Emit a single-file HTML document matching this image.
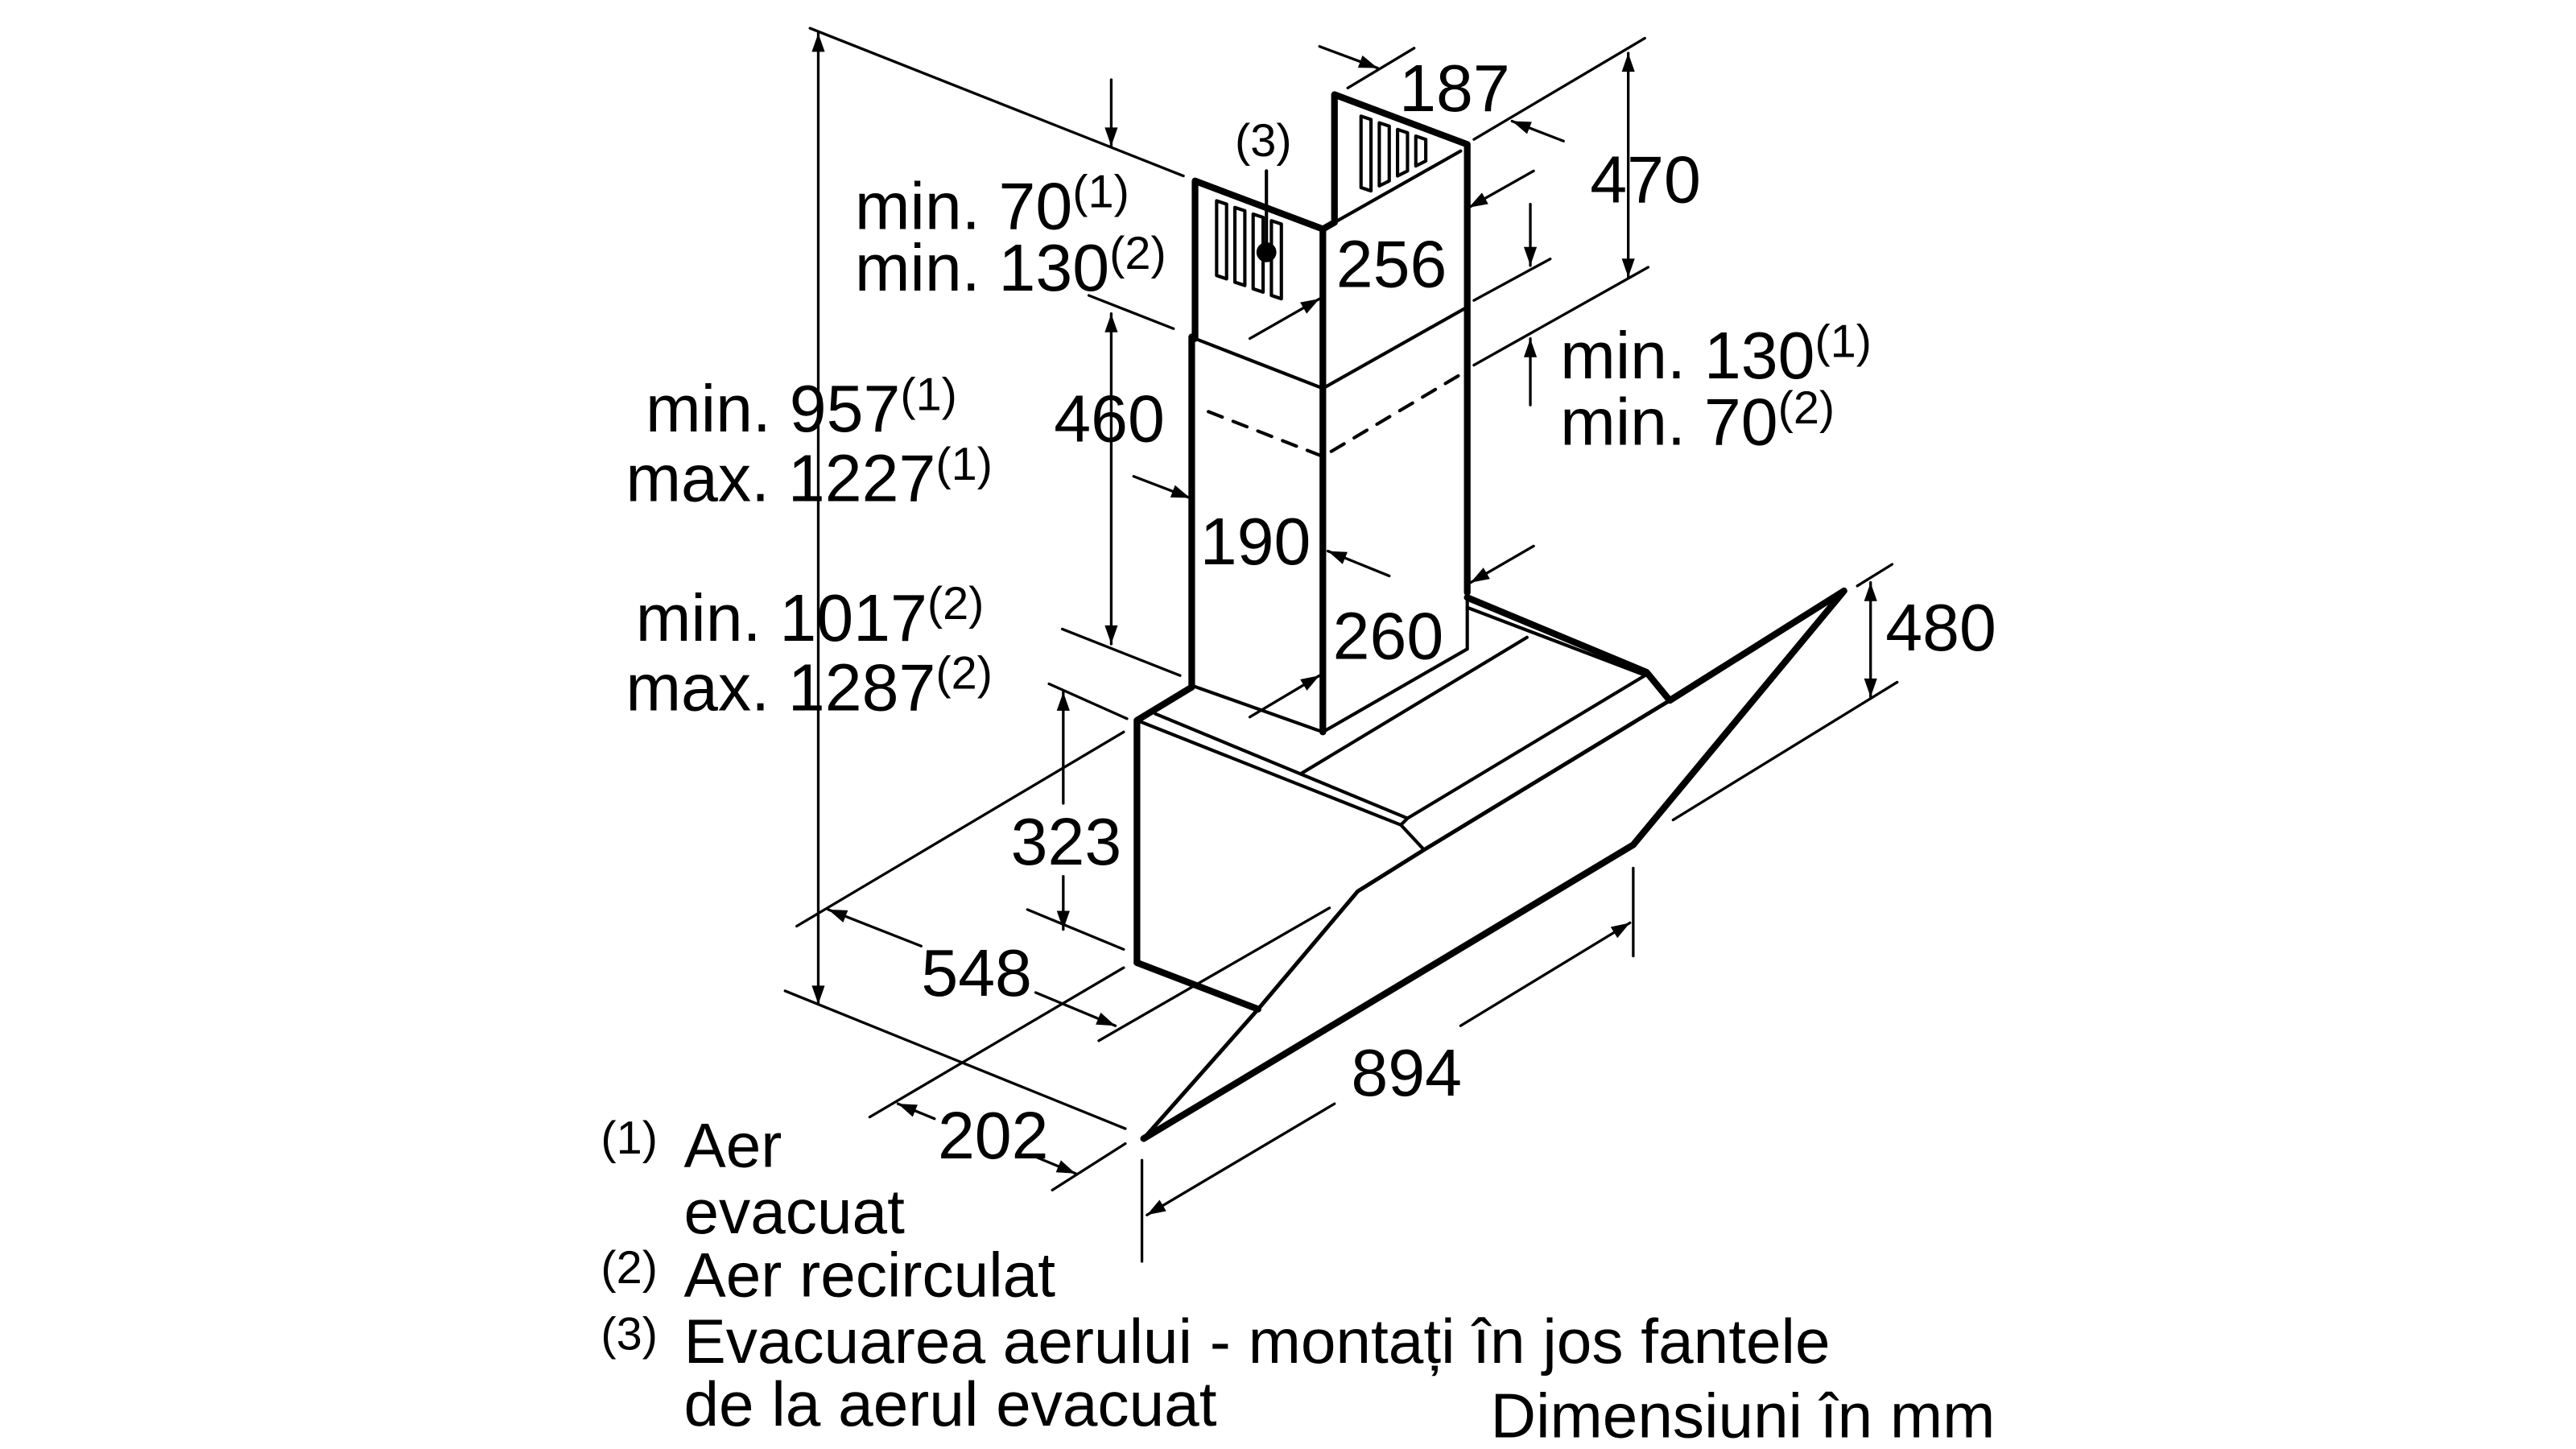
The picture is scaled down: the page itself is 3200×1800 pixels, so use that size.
<!DOCTYPE html>
<html><head><meta charset="utf-8"><style>
html,body{margin:0;padding:0;background:#fff;}
svg{display:block}
text{font-family:"Liberation Sans",sans-serif;fill:#000}
</style></head><body>
<svg width="3200" height="1800" viewBox="0 0 1552 873" xmlns="http://www.w3.org/2000/svg">
<defs><marker id="a" viewBox="0 0 10 10" refX="10" refY="5" markerWidth="7.5" markerHeight="7" orient="auto-start-reverse"><path d="M0,1.5 L10,5 L0,8.5 z" fill="#000"/></marker></defs>
<rect width="1552" height="873" fill="#fff"/>
<g stroke="#000" fill="none" stroke-linecap="round" stroke-linejoin="round">
<g stroke-width="4">
<polyline points="720,204 720,109 797,138 804,134 804,57 884,87 884,357"/>
<line x1="718" y1="203" x2="718" y2="414"/>
<line x1="797" y1="138" x2="797" y2="441"/>
<polyline points="685,580 685,434 718,414"/>
<polyline points="685,580 758,608"/>
<polyline points="689,686 984,509 1111,356 1006,422 992,405 884,360"/>
</g>
<g stroke-width="2.4">
<polyline points="1006,422 858,512 818,537 758,608 689,686"/>
</g>
<g stroke-width="2">
<polyline points="720,204 797,234 884,185"/>
<polyline points="728,248 797,275 881,225" stroke-dasharray="9,7"/>
<polyline points="718,413 797,441 884,391"/>
<line x1="884" y1="185" x2="884" y2="391"/>
<line x1="804" y1="134" x2="880" y2="91"/>
<polyline points="685,434 844,497 858,512"/>
<line x1="696" y1="430" x2="848" y2="493"/>
<line x1="884" y1="366" x2="989" y2="406"/>
<line x1="784" y1="466" x2="920" y2="384"/>
<line x1="848" y1="493" x2="991" y2="407"/>
<line x1="844" y1="497" x2="848" y2="493"/>
<polygon points="733,121 739,123 739,168 733,166"/>
<polygon points="744,125 750,127 750,172 744,170"/>
<polygon points="755,129 761,131 761,176 755,174"/>
<polygon points="766,133 772,135 772,180 766,178"/>
<polygon points="820,70 826,72 826,115 820,113"/>
<polygon points="831,74 837,76 837,109 831,112"/>
<polygon points="842,78 848,80 848,103 842,106"/>
<polygon points="853,82 859,84 859,97 853,100"/>
<line x1="763" y1="103" x2="763" y2="150"/>
</g>
<circle cx="763" cy="152" r="5.5" fill="#000"/>
<g stroke-width="1.6">
<line x1="488" y1="17" x2="713" y2="106"/>
<line x1="493" y1="20" x2="493" y2="605" marker-start="url(#a)" marker-end="url(#a)"/>
<line x1="473" y1="597" x2="678" y2="680"/>
<line x1="669.5" y1="48" x2="669.5" y2="88" marker-end="url(#a)"/>
<line x1="656" y1="178" x2="707" y2="198"/>
<line x1="669.5" y1="189" x2="669.5" y2="388" marker-start="url(#a)" marker-end="url(#a)"/>
<line x1="640" y1="379" x2="711" y2="407"/>
<line x1="795" y1="28" x2="830" y2="41" marker-end="url(#a)"/>
<line x1="812" y1="53" x2="852" y2="29"/>
<line x1="888" y1="84" x2="991" y2="23"/>
<line x1="942" y1="85" x2="911" y2="73" marker-end="url(#a)"/>
<line x1="981" y1="32" x2="981" y2="167" marker-start="url(#a)" marker-end="url(#a)"/>
<line x1="888" y1="181" x2="934" y2="156"/>
<line x1="888" y1="220" x2="993" y2="161"/>
<line x1="924" y1="103" x2="885" y2="125" marker-end="url(#a)"/>
<line x1="922" y1="123" x2="922" y2="160" marker-end="url(#a)"/>
<line x1="922" y1="244" x2="922" y2="204" marker-end="url(#a)"/>
<line x1="753" y1="204" x2="795" y2="180" marker-end="url(#a)"/>
<line x1="683" y1="287" x2="717" y2="300" marker-end="url(#a)"/>
<line x1="837" y1="347" x2="800" y2="332" marker-end="url(#a)"/>
<line x1="924" y1="329" x2="886" y2="351" marker-end="url(#a)"/>
<line x1="753" y1="432" x2="795" y2="407" marker-end="url(#a)"/>
<line x1="1127" y1="351" x2="1127" y2="420" marker-start="url(#a)" marker-end="url(#a)"/>
<line x1="1119" y1="353" x2="1140" y2="340"/>
<line x1="1008" y1="494" x2="1143" y2="411"/>
<line x1="640.6" y1="484" x2="640.6" y2="417" marker-end="url(#a)"/>
<line x1="640.6" y1="528" x2="640.6" y2="560" marker-end="url(#a)"/>
<line x1="632" y1="412" x2="679" y2="433"/>
<line x1="619" y1="548" x2="677" y2="572"/>
<line x1="480" y1="558" x2="677" y2="441"/>
<line x1="555" y1="570" x2="499" y2="548" marker-end="url(#a)"/>
<line x1="624" y1="598" x2="672" y2="618" marker-end="url(#a)"/>
<line x1="524" y1="673" x2="677" y2="583"/>
<line x1="662" y1="627" x2="801" y2="547"/>
<line x1="563" y1="674" x2="541" y2="665" marker-end="url(#a)"/>
<line x1="624" y1="697" x2="648" y2="707" marker-end="url(#a)"/>
<line x1="634" y1="717" x2="678" y2="689"/>
<line x1="688" y1="699" x2="688" y2="760"/>
<line x1="984" y1="523" x2="984" y2="576"/>
<line x1="880" y1="618" x2="982" y2="556" marker-end="url(#a)"/>
<line x1="804" y1="665" x2="691" y2="732" marker-end="url(#a)"/>
</g>
</g>
<g font-size="40">
<text x="843" y="67">187</text>
<text x="958" y="122">470</text>
<text x="805" y="173">256</text>
<text x="515" y="138">min. 70<tspan font-size="28" dy="-13">(1)</tspan></text>
<text x="515" y="175">min. 130<tspan font-size="28" dy="-13">(2)</tspan></text>
<text x="940" y="228">min. 130<tspan font-size="28" dy="-13">(1)</tspan></text>
<text x="940" y="268">min. 70<tspan font-size="28" dy="-13">(2)</tspan></text>
<text x="635" y="266">460</text>
<text x="389" y="260">min. 957<tspan font-size="28" dy="-13">(1)</tspan></text>
<text x="377" y="302">max. 1227<tspan font-size="28" dy="-13">(1)</tspan></text>
<text x="723" y="340">190</text>
<text x="803" y="397">260</text>
<text x="1136" y="392">480</text>
<text x="383" y="386">min. 1017<tspan font-size="28" dy="-13">(2)</tspan></text>
<text x="377" y="428">max. 1287<tspan font-size="28" dy="-13">(2)</tspan></text>
<text x="609" y="521">323</text>
<text x="555" y="600">548</text>
<text x="814" y="660">894</text>
<text x="565" y="698">202</text>
</g>
<g font-size="38">
<text x="412" y="703">Aer</text>
<text x="412" y="743">evacuat</text>
<text x="412" y="781">Aer recirculat</text>
<text x="412" y="821">Evacuarea aerului - montați în jos fantele</text>
<text x="412" y="859">de la aerul evacuat</text>
<text x="898" y="866">Dimensiuni în mm</text>
</g>
<g font-size="28">
<text x="744" y="94">(3)</text>
<text x="362" y="695">(1)</text>
<text x="362" y="773">(2)</text>
<text x="362" y="813">(3)</text>
</g>
</svg>
</body></html>
